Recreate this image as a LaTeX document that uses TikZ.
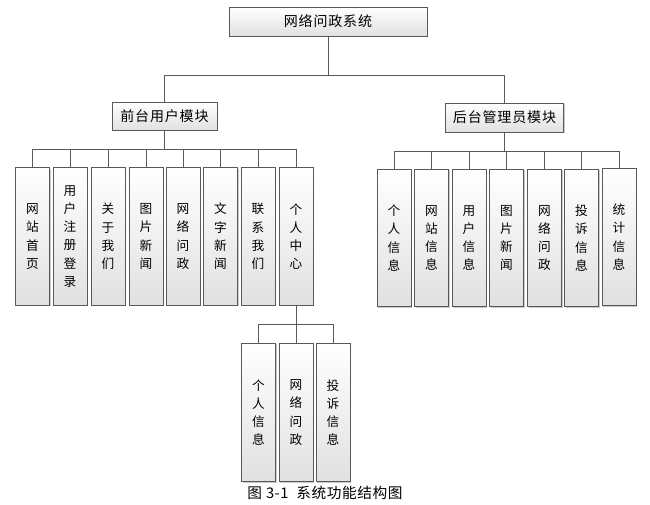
\documentclass[tikz,border=0pt]{standalone}
\usepackage{fontspec}
\setmainfont{Noto Sans CJK SC}
\usetikzlibrary{shadows}

\begin{document}
\begin{tikzpicture}[x=0.75pt, y=-0.75pt,
  box/.style={draw=black!65, line width=0.6pt, top color=white, bottom color=black!12,
    inner sep=0pt, outer sep=0pt, font=\fontsize{10.5}{12}\selectfont\addfontfeature{LetterSpace=6},
    drop shadow={shadow xshift=0.8pt, shadow yshift=-0.8pt, opacity=0.35, fill=black!60}},
  leaf/.style={box, minimum width=25.5pt, minimum height=103pt, align=center,
    font=\fontsize{9.5}{13.7}\selectfont},
  link/.style={draw=black!65, line width=0.6pt}]
  \useasboundingbox (0,0) rectangle (650,504);
  % root
  \node[box, minimum width=148.5pt, minimum height=21.75pt] (sys) at (328,21.5) {网络问政系统};
  % two modules
  \node[box, minimum width=78.75pt, minimum height=21pt] (front) at (164.5,116) {前台用户模块};
  \node[box, minimum width=89pt, minimum height=21.75pt] (back) at (504.5,117.5) {后台管理员模块};
  \draw[link] (sys.south) -- (sys.south |- 0,75) -| (front.north);
  \draw[link] (sys.south |- 0,75) -| (back.north);
  % front-end pages
  \node[leaf] (f1) at (32.5,236.5) {网\\站\\首\\页};
  \node[leaf] (f2) at (70,236.5) {用\\户\\注\\册\\登\\录};
  \node[leaf] (f3) at (108,236.5) {关\\于\\我\\们};
  \node[leaf] (f4) at (146,236.5) {图\\片\\新\\闻};
  \node[leaf] (f5) at (183,236.5) {网\\络\\问\\政};
  \node[leaf] (f6) at (220.5,236.5) {文\\字\\新\\闻};
  \node[leaf] (f7) at (258,236.5) {联\\系\\我\\们};
  \node[leaf] (f8) at (296,236.5) {个\\人\\中\\心};
  \draw[link] (front.south) -- (front.south |- 0,149);
  \draw[link] (f1.north) |- (f8.north |- 0,149) -- (f8.north);
  \draw[link] (f2.north) -- (f2.north |- 0,149);
  \draw[link] (f3.north) -- (f3.north |- 0,149);
  \draw[link] (f4.north) -- (f4.north |- 0,149);
  \draw[link] (f5.north) -- (f5.north |- 0,149);
  \draw[link] (f6.north) -- (f6.north |- 0,149);
  \draw[link] (f7.north) -- (f7.north |- 0,149);
  % back-end pages
  \node[leaf] (b1) at (394,238) {个\\人\\信\\息};
  \node[leaf] (b2) at (431.5,238) {网\\站\\信\\息};
  \node[leaf] (b3) at (469,238) {用\\户\\信\\息};
  \node[leaf] (b4) at (506.5,238) {图\\片\\新\\闻};
  \node[leaf] (b5) at (544.5,238) {网\\络\\问\\政};
  \node[leaf] (b6) at (581.5,238) {投\\诉\\信\\息};
  \node[leaf] (b7) at (619,237) {统\\计\\信\\息};
  \draw[link] (back.south) -- (back.south |- 0,151);
  \draw[link] (b1.north) |- (b7.north |- 0,151) -- (b7.north);
  \draw[link] (b2.north) -- (b2.north |- 0,151);
  \draw[link] (b3.north) -- (b3.north |- 0,151);
  \draw[link] (b4.north) -- (b4.north |- 0,151);
  \draw[link] (b5.north) -- (b5.north |- 0,151);
  \draw[link] (b6.north) -- (b6.north |- 0,151);
  % personal centre
  \node[leaf, minimum height=104pt] (p1) at (258.5,412.5) {个\\人\\信\\息};
  \node[leaf, minimum height=104pt] (p2) at (296,412.5) {网\\络\\问\\政};
  \node[leaf, minimum height=104pt] (p3) at (333,412.5) {投\\诉\\信\\息};
  \draw[link] (f8.south) -- (p2.north);
  \draw[link] (p1.north) |- (p3.north |- 0,324) -- (p3.north);
  % caption
  \node[font=\fontsize{11}{13}\selectfont\addfontfeature{LetterSpace=4}] (cap) at (325,493) {图 3-1\ \ 系统功能结构图};
\end{tikzpicture}
\end{document}
